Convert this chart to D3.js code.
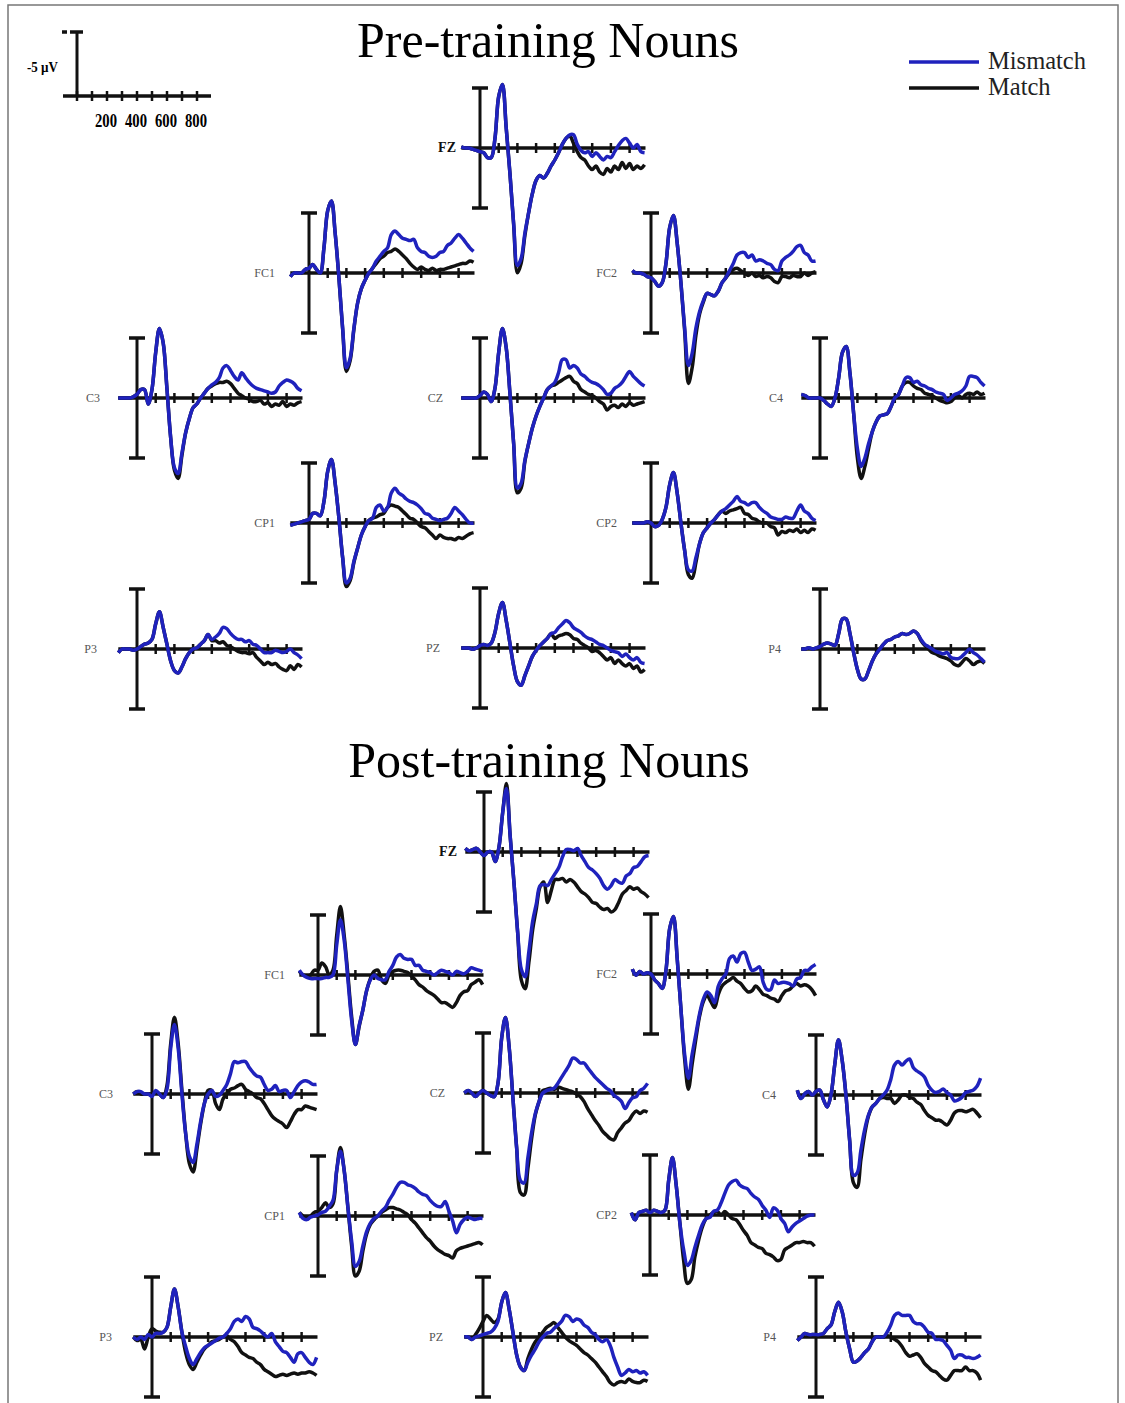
<!DOCTYPE html>
<html>
<head>
<meta charset="utf-8">
<script src="https://cdn.jsdelivr.net/npm/d3@7"></script>
<style>
  body { margin: 0; background: #fff; }
  svg { display: block; }
</style>
</head>
<body>
<svg id="chart" width="1125" height="1403"></svg>
<script>
// sampling times (ms) shared by every waveform
var times = [-100,-80,-60,-40,-20,0,20,40,60,80,100,120,140,160,180,200,220,240,260,280,300,320,340,360,380,400,420,440,460,480,500,520,540,560,580,600,620,640,660,680,700,720,740,760,780,800,820,840,860,880];
var electrodes = ["FZ","FC1","FC2","C3","CZ","C4","CP1","CP2","P3","PZ","P4"];
var legendLabels = ["Mismatch", "Match"];
var titles = ["Pre-training Nouns", "Post-training Nouns"];
var axisTicks = [100,200,300,400,500,600,700,800];
var keyTicks = [0,100,200,300,400,500,600,700,800];
var keyLabels = [200,400,600,800];

// amplitudes in microvolts (negative plotted up)
// pre-training
var preMisFZ = [-0.1,0,0,0.1,0.2,0.3,0.4,0.8,0.8,-0.8,-4.3,-5.3,-1.7,2.1,6.3,9.8,9.2,7.1,5.4,3.8,2.7,2.3,2.5,2.1,1.5,1.0,0.4,-0.3,-0.8,-1.1,-1.1,-0.3,0.2,0.4,0.3,0.7,0.4,0.7,1.0,0.7,0.8,0.3,-0.2,-0.6,-0.8,-0.4,0,-0.3,0.3,0.4];
var preMatFZ = [-0.1,0,0,0.1,0.2,0.3,0.4,0.8,0.8,-0.8,-4.3,-5.3,-1.7,2.1,6.4,10.4,9.6,7.3,5.4,3.8,2.7,2.3,2.5,2.1,1.5,1.0,0.4,-0.3,-0.8,-1.0,-0.4,0.3,0.8,1.0,1.5,1.8,1.5,2.0,2.2,1.7,2.0,1.5,1.8,1.2,1.7,1.3,1.8,1.5,1.7,1.4];
var preMisFC1 = [0.3,0,0,0,-0.3,-0.4,-0.7,-0.3,0,-2.1,-5.2,-6.0,-3.3,0.4,4.6,7.9,7.1,4.6,2.5,1.3,0.6,0,-0.4,-1.0,-1.4,-1.8,-2.1,-3.2,-3.5,-3.2,-2.9,-2.8,-2.7,-2.8,-2.1,-1.8,-1.7,-1.4,-1.3,-1.4,-1.7,-1.8,-2.3,-2.5,-2.9,-3.2,-2.9,-2.5,-2.1,-1.8];
var preMatFC1 = [0.3,0,0,0,-0.3,-0.4,-0.7,-0.3,0,-2.1,-5.2,-6.0,-3.3,0.4,4.7,8.2,7.3,4.7,2.5,1.3,0.6,0,-0.4,-0.8,-1.2,-1.4,-1.7,-1.8,-2.0,-1.8,-1.5,-1.2,-0.8,-0.5,-0.3,-0.5,-0.3,-0.2,-0.4,-0.2,-0.3,-0.3,-0.4,-0.5,-0.6,-0.7,-0.8,-0.8,-1.0,-0.9];
var preMisFC2 = [-0.2,0,0,0.1,0.3,0.4,0.7,1.1,0.8,-0.8,-3.8,-4.8,-2.5,0.8,4.6,7.7,6.7,4.6,3.2,2.3,1.7,1.8,1.9,1.5,0.8,0.4,-0.2,-0.8,-1.5,-1.7,-1.7,-1.3,-1.5,-1.0,-1.1,-1.0,-0.8,-0.7,-0.3,-0.2,-1.0,-1.3,-1.5,-1.8,-2.2,-2.3,-1.7,-1.5,-1.0,-1.0];
var preMatFC2 = [-0.2,0,0,0.1,0.3,0.4,0.7,1.1,0.8,-0.8,-3.8,-4.8,-2.5,0.8,4.8,9.2,7.9,5.2,3.4,2.4,1.7,1.8,1.9,1.5,0.8,0.4,0,-0.3,-0.4,-0.2,0,0.2,0,0.3,0.2,0.4,0.3,0.4,0.7,0.8,0.3,0.3,0.4,0.2,0.3,0.3,0,0.2,0,-0.1];
var preMisC3 = [0,0,0,0,-0.1,-0.3,-0.7,-0.7,0.5,-0.7,-3.8,-5.8,-4.6,-0.8,3.3,5.8,6.3,4.6,2.9,1.7,0.8,0.5,0,-0.4,-0.8,-1.1,-1.3,-1.7,-2.5,-2.7,-2.3,-1.8,-1.5,-2.1,-1.7,-1.3,-1.0,-0.8,-0.7,-0.6,-0.5,-0.4,-0.5,-1.0,-1.3,-1.5,-1.4,-1.2,-0.8,-0.6];
var preMatC3 = [0,0,0,0,-0.1,-0.3,-0.7,-0.7,0.5,-0.7,-3.8,-5.8,-4.6,-0.8,3.3,6.0,6.7,4.8,2.9,1.7,0.8,0.5,0,-0.4,-0.8,-1.0,-1.2,-1.3,-1.3,-1.4,-1.2,-0.8,-0.4,-0.2,0,0.1,0.3,0.3,0.2,0.5,0.4,0.7,0.5,0.6,0.3,0.7,0.5,0.6,0.4,0.3];
var preMisCZ = [0,0,0,0,0,-0.2,-0.5,-0.3,0.3,-0.8,-3.8,-5.8,-4.2,-0.4,3.8,7.5,7.1,5.2,3.8,2.5,1.5,0.7,0,-0.7,-1.0,-1.3,-2.1,-3.2,-3.2,-2.5,-2.7,-2.5,-2.0,-1.8,-1.5,-1.3,-1.2,-1.0,-0.7,-0.3,-0.4,-0.8,-1.0,-1.3,-1.8,-2.2,-1.8,-1.5,-1.2,-1.0];
var preMatCZ = [0,0,0,0,0,-0.2,-0.5,-0.3,0.3,-0.8,-3.8,-5.8,-4.2,-0.4,3.8,7.9,7.5,5.3,3.8,2.5,1.5,0.7,0,-0.7,-1.0,-1.1,-1.3,-1.5,-1.7,-1.8,-1.4,-1.2,-0.7,-0.5,-0.3,-0.2,0,0.3,0.5,1.0,0.7,0.6,0.8,0.5,0.7,0.4,0.6,0.5,0.4,0.3];
var preMisC4 = [-0.3,-0.2,0,0,0,0,0.2,0.5,0.7,0,-1.7,-3.8,-4.3,-2.1,1.3,4.2,5.7,5.0,3.8,2.8,2.0,1.5,1.4,1.3,0.7,0,-0.3,-1.0,-1.7,-1.7,-1.3,-1.4,-1.1,-1.0,-0.8,-0.7,-0.5,-0.4,-0.3,0.2,0,-0.3,-0.4,-0.6,-1.0,-1.8,-1.8,-1.7,-1.3,-1.0];
var preMatC4 = [-0.3,-0.2,0,0,0,0,0.2,0.5,0.7,0,-1.7,-3.8,-4.3,-2.1,1.3,5.0,6.7,5.7,4.2,2.8,2.0,1.5,1.4,1.3,0.7,0,-0.3,-1.0,-1.3,-1.3,-1.0,-0.8,-0.7,-0.4,-0.3,-0.2,0,0.2,0.3,0.4,0.3,0,-0.2,0,-0.3,-0.4,-0.3,-0.5,-0.3,-0.4];
var preMisCP1 = [0.2,0.1,0,-0.1,-0.2,-0.3,-0.8,-0.8,-0.6,-1.8,-4.3,-5.3,-3.3,-0.4,2.9,5.0,4.6,3.2,2.1,1.0,0.3,-0.2,-0.4,-1.3,-1.5,-1.0,-1.3,-2.5,-2.9,-2.5,-2.3,-2.0,-1.8,-1.7,-1.5,-1.2,-0.8,-0.7,-0.4,-0.3,-0.2,-0.3,-0.4,-0.8,-1.3,-1.0,-0.7,-0.3,0,0];
var preMatCP1 = [0.2,0.1,0,-0.1,-0.2,-0.3,-0.8,-0.8,-0.6,-1.8,-4.3,-5.3,-3.3,-0.4,2.9,5.3,4.8,3.3,2.1,1.0,0.3,-0.2,-0.4,-0.5,-0.7,-0.8,-1.3,-1.5,-1.4,-1.3,-1.0,-0.7,-0.4,-0.3,0,0.3,0.4,0.7,1.0,1.3,1.0,1.2,1.3,1.3,1.4,1.2,1.3,1.1,0.9,0.8];
var preMisCP2 = [0,0,0,0,-0.1,0,0.3,0.2,-0.3,-1.3,-3.2,-4.2,-2.5,0,2.3,3.9,4.0,2.9,1.7,0.8,0.4,0,-0.3,-0.7,-1.0,-1.2,-1.5,-1.8,-2.2,-1.8,-1.7,-1.5,-1.7,-1.7,-1.3,-1.0,-0.8,-0.5,-0.4,-0.3,-0.3,-0.5,-0.4,-0.4,-1.0,-1.5,-1.0,-0.8,-0.4,-0.2];
var preMatCP2 = [0,0,0,0,-0.1,0,0.3,0.2,-0.3,-1.3,-3.2,-4.2,-2.5,0,2.3,4.3,4.6,3.3,1.7,0.8,0.4,0,-0.3,-0.7,-1.0,-0.8,-1.0,-1.1,-1.2,-1.3,-0.8,-0.7,-0.4,-0.3,-0.1,0,0,0.3,0.4,1.0,0.7,0.8,0.6,0.7,0.5,0.8,0.6,0.8,0.5,0.6];
var preMisP3 = [0.3,0,0,0,0.1,0,-0.2,-0.4,-0.5,-0.8,-2.1,-3.1,-1.8,-0.4,1.0,1.8,2.0,1.5,0.8,0.3,0,-0.1,-0.4,-0.7,-1.2,-0.8,-1.0,-1.3,-1.8,-1.7,-1.3,-1.0,-0.8,-0.8,-0.6,-0.7,-0.4,-0.3,0,0.3,0.3,0.3,0.1,0.2,0.3,0.2,0,0.3,0.5,0.8];
var preMatP3 = [0.3,0,0,0,0.1,0,-0.2,-0.4,-0.5,-0.8,-2.1,-3.1,-1.8,-0.4,1.0,1.8,2.0,1.5,0.8,0.3,0,-0.1,-0.4,-0.7,-1.2,-0.7,-0.7,-0.5,-0.6,-0.3,-0.2,0,0.2,0.3,0.3,0.4,0.3,0.7,1.0,1.3,1.1,1.3,1.2,1.5,1.7,1.8,1.4,1.7,1.3,1.5];
var preMisPZ = [0,0,0,0.1,0,-0.2,-0.3,-0.2,-0.4,-1.3,-2.9,-3.8,-2.3,-0.4,1.5,2.8,3.1,2.3,1.5,0.7,0.2,-0.2,-0.5,-0.8,-1.2,-1.3,-1.7,-2.0,-2.3,-2.1,-1.7,-1.5,-1.3,-1.0,-0.8,-0.7,-0.5,-0.3,-0.2,0,0.2,0.3,0.4,0.7,0.5,0.8,1.0,0.8,1.2,1.3];
var preMatPZ = [0,0,0,0.1,0,-0.2,-0.3,-0.2,-0.4,-1.3,-2.9,-3.8,-2.3,-0.4,1.5,2.8,3.1,2.3,1.5,0.7,0.2,-0.2,-0.5,-0.8,-1.2,-0.8,-1.0,-1.1,-1.2,-1.1,-0.8,-0.7,-0.4,-0.2,0,0.3,0.2,0.4,0.7,1.0,0.8,1.3,1.0,1.3,1.5,1.3,1.7,1.5,2.0,1.8];
var preMisP4 = [0,0,-0.1,0,-0.1,-0.2,-0.4,-0.5,-0.4,-0.3,-1.3,-2.5,-2.5,-1.3,0.3,1.7,2.5,2.5,1.8,1.0,0.4,0,-0.4,-0.7,-0.8,-1.0,-1.1,-1.3,-1.2,-1.3,-1.5,-1.3,-0.8,-0.4,-0.2,0,0.2,0.3,0.4,0.3,0.7,0.8,0.8,0.6,0.3,0,0.3,0.5,0.8,1.1];
var preMatP4 = [0,0,-0.1,0,-0.1,-0.2,-0.4,-0.5,-0.4,-0.3,-1.3,-2.5,-2.5,-1.3,0.3,1.7,2.5,2.5,1.8,1.0,0.4,0,-0.4,-0.7,-0.8,-1.0,-1.1,-1.3,-1.2,-1.3,-1.5,-1.3,-0.7,-0.3,0,0.3,0.4,0.6,0.7,0.8,1.0,1.3,1.4,1.1,0.8,1.0,1.3,1.1,1.0,1.2];

// post-training
var postMisFZ = [-0.3,-0.1,-0.2,-0.3,0,0.3,0,0,0.8,-0.4,-3.3,-5.3,-1.3,2.5,6.7,9.8,10.4,8.3,5.8,4.3,2.8,2.7,2.8,2.3,1.8,1.3,0.4,-0.2,-0.2,-0.1,-0.3,0.3,0.8,1.3,1.5,1.8,2.2,2.8,3.1,2.8,2.3,2.5,2.6,2.0,1.8,1.3,1.2,0.8,0.4,0.3];
var postMatFZ = [-0.3,-0.1,-0.2,-0.3,0,0.3,0,0,0.8,-0.4,-3.3,-5.7,-1.3,2.5,6.7,10.7,11.4,9.2,6.5,4.7,2.9,2.5,4.2,3.2,2.3,2.3,2.2,2.5,2.3,2.5,2.9,3.3,3.5,3.8,4.2,4.3,4.6,4.8,4.7,5.0,4.8,4.2,3.5,3.2,2.9,3.1,3.0,3.3,3.5,3.8];
var postMisFC1 = [-0.4,0,0.2,0.3,0.3,0.3,0.3,0.2,0.2,0,-2.5,-4.6,-2.9,0.4,3.8,5.8,4.2,2.9,1.3,0.4,0,0.3,0.4,0.4,-0.3,-0.8,-1.5,-1.7,-1.4,-1.3,-1.3,-0.8,-0.8,-0.4,-0.3,-0.2,0,-0.2,-0.4,-0.3,-0.2,0,-0.3,-0.2,-0.1,-0.3,-0.6,-0.5,-0.4,-0.3];
var postMatFC1 = [-0.3,0,0.1,0,-0.4,-0.4,-1.0,-0.7,0,-0.4,-3.3,-5.7,-3.3,0,3.5,5.8,4.3,2.9,1.3,0.3,-0.3,-0.4,0.4,0.7,0,-0.3,-0.4,-0.4,-0.3,-0.2,0.1,0.4,0.8,1.0,1.3,1.5,1.7,2.0,2.3,2.3,2.5,2.7,2.3,1.7,1.4,1.3,0.8,0.6,0.4,0.8];
var postMisFC2 = [-0.4,0.1,-0.2,0,-0.1,0,0.5,0.8,1.2,-0.3,-3.8,-4.8,-1.3,2.9,6.7,8.7,6.7,5.0,3.3,2.1,1.5,1.8,2.4,1.0,0.4,0,-1.3,-1.5,-1.0,-1.7,-1.8,-1.0,-0.3,-0.4,-0.6,0.7,1.3,1.3,0.5,0.8,0.7,0.7,0.8,1.0,0.4,0.3,-0.3,-0.3,-0.6,-0.8];
var postMatFC2 = [-0.4,0.1,-0.2,0,-0.1,0,0.5,0.8,1.2,-0.3,-3.8,-4.8,-1.3,2.9,7.1,9.6,7.5,5.4,3.5,2.3,1.8,2.3,2.8,1.7,1.0,0.7,0.5,0.3,0.6,0.8,1.2,1.5,1.4,1.0,1.3,1.7,1.8,2.0,2.1,2.3,1.8,1.4,1.3,1.0,0.8,1.0,0.9,1.0,1.3,1.8];
var postMisC3 = [0,-0.2,-0.2,0,0,0.2,-0.3,0,0.3,-0.4,-3.8,-5.8,-3.8,0,3.3,5.2,5.7,4.2,2.3,0.8,0,-0.3,0.2,0.1,-0.3,-0.8,-1.7,-2.7,-2.6,-2.7,-2.7,-2.2,-1.8,-1.5,-1.4,-0.8,-0.3,-0.4,-0.7,-0.2,-0.3,-0.3,0.3,-0.2,-0.7,-1.0,-1.1,-1.0,-0.8,-0.8];
var postMatC3 = [0,-0.2,0,0,0,0,-0.2,0,0.3,-0.7,-4.2,-6.4,-4.2,-0.3,3.3,5.8,6.5,4.6,2.5,0.8,-0.3,-0.3,0.8,1.3,0.4,0,-0.4,-0.5,-0.7,-0.8,-0.4,-0.2,0,0.3,0.4,0.8,1.3,1.8,2.1,2.3,2.5,2.8,2.3,1.7,1.3,1.3,1.0,1.1,1.2,1.3];
var postMisCZ = [0,-0.2,0,0.3,0,-0.2,0,0.2,0.3,-0.8,-4.6,-6.3,-3.8,0.4,4.6,7.3,7.5,5.4,3.3,1.7,0.7,0,-0.2,-0.3,-0.4,-0.8,-1.3,-1.8,-2.3,-2.9,-2.8,-2.5,-2.5,-2.1,-1.7,-1.3,-1.0,-0.7,-0.4,-0.2,0.2,0.4,0.7,1.3,0.8,0.4,0.3,-0.2,-0.4,-0.8];
var postMatCZ = [0,-0.2,0,0.3,0,-0.2,0,0.2,0.3,-0.8,-4.6,-6.3,-3.8,0.4,4.6,8.3,8.5,6.3,3.8,1.8,0.7,-0.2,-0.3,-0.4,-0.3,-0.5,-0.4,-0.3,-0.2,-0.1,0.1,0.3,0.7,1.3,1.8,2.3,2.7,3.2,3.5,3.8,3.9,3.3,2.9,2.5,2.3,1.8,1.5,1.7,1.5,1.6];
var postMisC4 = [-0.4,0.3,-0.1,-0.3,0,-0.3,-0.4,0.4,1.0,0,-2.5,-4.6,-2.9,0,3.8,6.7,6.5,4.6,2.9,1.7,1.0,0.7,0.3,0,-0.4,-1.3,-2.5,-2.8,-2.5,-2.8,-3.0,-2.3,-2.0,-1.8,-1.5,-0.8,-0.4,-0.2,-0.3,-0.5,-0.2,0,0.5,0.4,0.2,-0.2,-0.3,-0.4,-0.7,-1.4];
var postMatC4 = [-0.4,0.3,-0.1,-0.3,0,-0.3,-0.4,0.4,1.0,0,-2.5,-4.6,-2.9,0,3.8,7.3,7.7,5.4,3.3,1.8,1.0,0.7,0.3,0.2,0.3,0.3,0.7,0.4,0,0,0.2,0.3,0.6,0.8,1.3,1.7,1.9,2.1,2.1,2.3,2.5,2.1,1.5,1.3,1.3,1.4,1.3,1.2,1.5,1.9];
var postMisCP1 = [-0.3,0.2,0.3,0.1,0,-0.1,-0.3,-0.4,-0.8,-1.3,-3.8,-5.4,-3.8,-0.7,2.1,4.2,3.8,2.5,1.3,0.6,0.2,0,-0.4,-0.7,-1.3,-1.8,-2.4,-2.8,-2.8,-2.6,-2.5,-2.3,-2.0,-1.8,-1.7,-1.3,-1.0,-0.8,-0.8,-1.2,-0.4,0.4,1.4,0.7,0.3,0.1,0.2,0.3,0.2,0.2];
var postMatCP1 = [-0.3,0,0.2,0,-0.3,-0.4,-0.7,-1.1,-0.7,-1.0,-3.8,-5.7,-3.8,-0.7,2.5,5.0,4.6,2.9,1.5,0.7,0.3,0,-0.3,-0.5,-0.7,-0.7,-0.6,-0.5,-0.3,-0.1,0.3,0.6,1.0,1.4,1.8,2.1,2.5,2.8,3.0,3.2,3.3,3.5,2.9,2.7,2.6,2.5,2.4,2.3,2.2,2.4];
var postMisCP2 = [-0.2,0.4,-0.2,-0.3,-0.4,-0.2,-0.4,-0.3,-0.2,-0.4,-2.9,-4.8,-2.5,0.7,2.9,4.2,3.8,2.7,1.7,0.8,0.3,0.2,-0.3,-0.4,-1.0,-1.8,-2.5,-2.8,-2.9,-2.5,-2.3,-2.2,-1.8,-1.5,-1.3,-0.8,-0.4,0.2,-0.6,-0.4,0.3,0.7,1.4,1.0,0.7,0.5,0.3,0.1,0,0];
var postMatCP2 = [-0.2,0.4,-0.2,-0.3,-0.4,-0.2,-0.4,-0.3,-0.2,-0.4,-2.9,-4.8,-2.5,0.7,3.8,5.7,5.4,3.5,2.1,1.0,0.3,0,-0.2,-0.3,0,-0.3,0,0.3,0.4,0.8,1.3,1.7,2.3,2.5,2.7,2.8,3.2,3.3,3.5,3.8,3.7,2.9,2.7,2.5,2.3,2.3,2.2,2.3,2.3,2.6];
var postMisP3 = [0,0.2,0,0.2,-0.2,0,-0.3,-0.3,-0.4,-0.8,-2.5,-4.0,-2.5,-0.4,0.8,1.8,2.3,1.8,1.3,0.9,0.7,0.5,0.3,0.1,0,-0.3,-0.7,-1.3,-1.5,-1.3,-1.7,-1.5,-0.8,-0.7,-0.5,-0.2,0,-0.3,0.4,0.8,1.2,1.3,1.7,2.1,1.4,1.3,1.7,2.1,2.3,1.7];
var postMatP3 = [0,0.3,0.2,1.0,0,-0.7,-0.5,-0.4,-0.4,-0.8,-2.5,-4.0,-2.5,-0.4,1.3,2.3,2.7,2.1,1.5,1.0,0.7,0.4,0.3,0.2,0,-0.1,0.2,0.4,0.8,1.3,1.5,1.7,1.8,2.1,2.3,2.7,2.9,3.1,3.3,3.2,3.1,3.2,3.1,3.0,3.1,3.0,3.0,2.9,3.0,3.2];
var postMisPZ = [0,0,0.2,0,-0.1,-0.2,-0.3,-0.4,-0.7,-1.3,-2.9,-3.7,-2.3,-0.4,1.5,2.5,2.8,2.1,1.5,1.0,0.4,0,-0.3,-0.4,-0.7,-1.0,-1.3,-1.8,-1.7,-1.3,-1.5,-1.4,-1.0,-0.8,-0.4,-0.2,0.2,0.4,0.2,0.7,1.7,2.5,3.2,3.0,2.7,2.9,2.8,3.0,2.9,3.2];
var postMatPZ = [0,0,0.2,-0.2,-0.7,-1.3,-1.8,-1.5,-1.2,-1.5,-2.9,-3.7,-2.3,-0.4,1.5,2.5,2.8,1.8,1.0,0.4,0,-0.4,-0.8,-1.0,-1.2,-0.8,-0.4,0,0.3,0.5,0.7,1.0,1.3,1.5,1.8,2.1,2.5,2.9,3.3,3.8,4.0,3.8,3.7,3.8,3.5,3.7,3.8,3.8,3.6,3.7];
var postMisP4 = [0.3,0,-0.3,-0.2,-0.2,-0.2,-0.2,-0.3,-0.7,-1.0,-2.1,-2.9,-2.1,-0.4,1.0,2.1,2.0,1.7,1.3,1.0,0.4,0,0,0,-0.4,-1.0,-1.8,-2.0,-1.8,-1.8,-1.8,-1.3,-1.1,-1.1,-0.8,-0.4,-0.3,0.2,0.2,0.3,0.7,1.1,1.8,1.5,1.5,1.7,1.7,1.8,1.7,1.5];
var postMatP4 = [0.3,0,-0.3,-0.2,-0.2,-0.2,-0.2,-0.3,-0.7,-1.0,-2.1,-2.9,-2.1,-0.4,1.0,2.1,2.0,1.7,1.3,1.0,0.4,0,0,0,-0.1,0,0.2,0.4,0.8,1.3,1.6,1.5,1.4,1.7,2.2,2.5,2.8,2.9,3.2,3.5,3.6,3.2,2.8,2.8,2.8,2.5,2.8,2.8,3.0,3.6];

var preData = {
  FZ: [preMisFZ, preMatFZ], FC1: [preMisFC1, preMatFC1], FC2: [preMisFC2, preMatFC2],
  C3: [preMisC3, preMatC3], CZ: [preMisCZ, preMatCZ], C4: [preMisC4, preMatC4],
  CP1: [preMisCP1, preMatCP1], CP2: [preMisCP2, preMatCP2],
  P3: [preMisP3, preMatP3], PZ: [preMisPZ, preMatPZ], P4: [preMisP4, preMatP4]
};
var postData = {
  FZ: [postMisFZ, postMatFZ], FC1: [postMisFC1, postMatFC1], FC2: [postMisFC2, postMatFC2],
  C3: [postMisC3, postMatC3], CZ: [postMisCZ, postMatCZ], C4: [postMisC4, postMatC4],
  CP1: [postMisCP1, postMatCP1], CP2: [postMisCP2, postMatCP2],
  P3: [postMisP3, postMatP3], PZ: [postMisPZ, postMatPZ], P4: [postMisP4, postMatP4]
};

// panel origins: [x of 0 ms, y of 0 uV, label gap]
var preLayout = {
  FZ: [480, 148, 24], FC1: [309, 273, 34], FC2: [651, 273, 34],
  C3: [137, 398, 37], CZ: [480, 398, 37], C4: [820, 398, 37],
  CP1: [309, 523, 34], CP2: [651, 523, 34],
  P3: [137, 649, 40], PZ: [480, 648, 40], P4: [820, 649, 39]
};
var postLayout = {
  FZ: [484, 852, 27], FC1: [318, 975, 33], FC2: [651, 974, 34],
  C3: [152, 1094, 39], CZ: [483, 1093, 38], C4: [816, 1095, 40],
  CP1: [318, 1216, 33], CP2: [650, 1215, 33],
  P3: [152, 1337, 40], PZ: [483, 1337, 40], P4: [816, 1337, 40]
};

var blue = "#1f22bd", black = "#111";
var svg = d3.select("#chart");

// outer frame
svg.append("rect").attr("x", 8).attr("y", 5).attr("width", 1110).attr("height", 1420)
  .attr("fill", "none").attr("stroke", "#777").attr("stroke-width", 1.5);

function drawPanel(name, pos, series) {
  var x0 = pos[0], y0 = pos[1];
  var x = d3.scaleLinear().domain([0, 100]).range([x0, x0 + 18.7]);
  var y = d3.scaleLinear().domain([-5, 5]).range([y0 - 60, y0 + 60]);
  var g = svg.append("g");

  // amplitude bar
  g.append("line").attr("x1", x0).attr("x2", x0).attr("y1", y(-5)).attr("y2", y(5))
    .attr("stroke", black).attr("stroke-width", 3);
  [-5, 5].forEach(function(v) {
    g.append("line").attr("x1", x0 - 8).attr("x2", x0 + 8).attr("y1", y(v)).attr("y2", y(v))
      .attr("stroke", black).attr("stroke-width", 3.5);
  });
  // time axis
  g.append("line").attr("x1", x(-100)).attr("x2", x(885)).attr("y1", y(0)).attr("y2", y(0))
    .attr("stroke", black).attr("stroke-width", 3.5);
  g.selectAll(".tk").data(axisTicks).enter().append("line")
    .attr("x1", function(d) { return x(d); }).attr("x2", function(d) { return x(d); })
    .attr("y1", y(0) - 5).attr("y2", y(0) + 5)
    .attr("stroke", black).attr("stroke-width", 2.5);

  var line = d3.line()
    .x(function(d, i) { return x(times[i]); })
    .y(function(d) { return y(d); })
    .curve(d3.curveCatmullRom.alpha(0.5));

  g.append("path").attr("d", line(series[1])).attr("fill", "none")
    .attr("stroke", black).attr("stroke-width", 3.5).attr("stroke-linejoin", "round");
  g.append("path").attr("d", line(series[0])).attr("fill", "none")
    .attr("stroke", blue).attr("stroke-width", 3.5).attr("stroke-linejoin", "round");

  var bold = name == "FZ";
  g.append("text").attr("x", x0 - pos[2]).attr("y", y0 + 4)
    .attr("text-anchor", "end")
    .attr("font-family", "'Liberation Serif', 'DejaVu Serif', serif")
    .attr("font-size", bold ? 14 : 12)
    .attr("font-weight", bold ? "bold" : "normal")
    .attr("fill", bold ? "#111" : "#555")
    .text(name);
}

electrodes.forEach(function(e) { drawPanel(e, preLayout[e], preData[e]); });
electrodes.forEach(function(e) { drawPanel(e, postLayout[e], postData[e]); });

// titles
svg.append("text").attr("x", 548).attr("y", 57).attr("text-anchor", "middle")
  .attr("font-family", "'Liberation Serif', serif").attr("font-size", 50).text(titles[0]);
svg.append("text").attr("x", 549).attr("y", 777).attr("text-anchor", "middle")
  .attr("font-family", "'Liberation Serif', serif").attr("font-size", 50).text(titles[1]);

// legend
[blue, black].forEach(function(c, i) {
  var ly = 62 + i * 26;
  svg.append("line").attr("x1", 909).attr("x2", 979).attr("y1", ly).attr("y2", ly)
    .attr("stroke", c).attr("stroke-width", 3.5);
  svg.append("text").attr("x", 988).attr("y", ly + 7)
    .attr("font-family", "'Liberation Serif', serif").attr("font-size", 24.5)
    .attr("fill", "#222").text(legendLabels[i]);
});

// scale key (top left)
var kx = d3.scaleLinear().domain([0, 800]).range([77, 197]);
var ky = d3.scaleLinear().domain([0, -5]).range([96, 32]);
svg.append("line").attr("x1", kx(0)).attr("x2", kx(0)).attr("y1", ky(0)).attr("y2", ky(-5))
  .attr("stroke", black).attr("stroke-width", 3);
svg.append("line").attr("x1", 70).attr("x2", 83).attr("y1", ky(-5)).attr("y2", ky(-5))
  .attr("stroke", black).attr("stroke-width", 3.5);
svg.append("line").attr("x1", 62).attr("x2", 67).attr("y1", ky(-5)).attr("y2", ky(-5))
  .attr("stroke", black).attr("stroke-width", 3.5);
svg.append("line").attr("x1", 63).attr("x2", 211).attr("y1", ky(0)).attr("y2", ky(0))
  .attr("stroke", black).attr("stroke-width", 3.5);
svg.selectAll(".ktk").data(keyTicks).enter().append("line")
  .attr("x1", function(d) { return kx(d); }).attr("x2", function(d) { return kx(d); })
  .attr("y1", ky(0) - 5).attr("y2", ky(0) + 5)
  .attr("stroke", black).attr("stroke-width", 2.5);
svg.selectAll(".klb").data(keyLabels).enter().append("text")
  .attr("x", function(d) { return kx(d) - 1; }).attr("y", 127)
  .attr("text-anchor", "middle")
  .attr("font-family", "'Liberation Serif', serif").attr("font-size", 18).attr("font-weight", "bold")
  .attr("textLength", 22).attr("lengthAdjust", "spacingAndGlyphs")
  .text(function(d) { return d; });
svg.append("text").attr("x", 27).attr("y", 72)
  .attr("font-family", "'Liberation Serif', serif").attr("font-size", 15).attr("font-weight", "bold")
  .attr("textLength", 31).attr("lengthAdjust", "spacingAndGlyphs")
  .text("-5 \u00b5V");
</script>
</body>
</html>
